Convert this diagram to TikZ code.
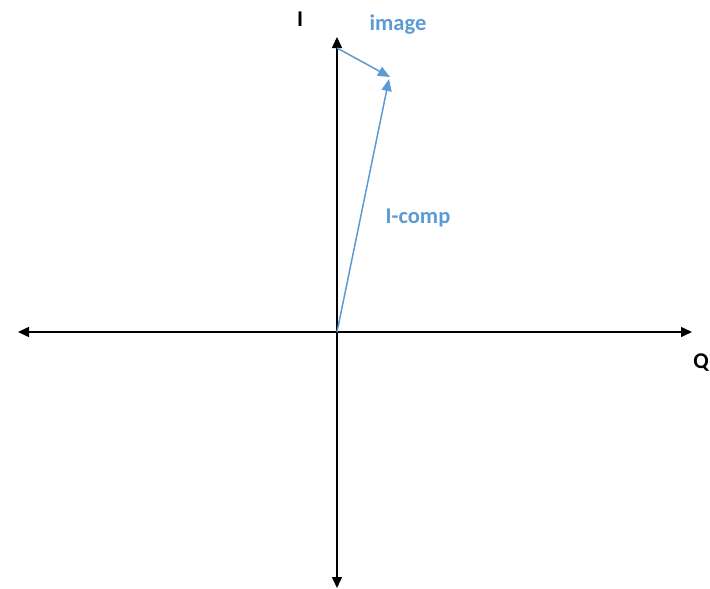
\documentclass[tikz,border=0pt]{standalone}
\usepackage{fontspec}
\setmainfont{Carlito}
\usetikzlibrary{arrows.meta}
\definecolor{cblue}{HTML}{5B9BD5}
\begin{document}
\begin{tikzpicture}[x=1pt,y=-1pt,
  axis/.style={line width=1.5pt,-{Triangle[length=11pt,width=10pt]}},
  vec/.style={cblue,line width=1.5pt,-{Triangle[length=12pt,width=10pt]}},
  lbl/.style={font=\bfseries\fontsize{22.5}{26}\selectfont,inner sep=0pt}]
\useasboundingbox (0,0) rectangle (710,589);
\coordinate (O) at (337,332);
\coordinate (L) at (18,332);
\coordinate (R) at (692,332);
\coordinate (T) at (337,37);
\coordinate (B) at (337,588);
\coordinate (S) at (337,48);
\coordinate (P) at (390,77);
\coordinate (P2) at (389,79);
\draw[axis] (O) -- (L);
\draw[axis] (O) -- (R);
\draw[axis] (O) -- (T);
\draw[axis] (O) -- (B);
\draw[vec] (O) -- (P2);
\draw[vec] (S) -- (P);
\node[lbl] (li) at (300,19) {I};
\node[lbl,text=cblue] (limg) at (398,25) {image};
\node[lbl] (lq) at (701,363) {Q};
\node[lbl,text=cblue] (lcomp) at (418,218) {I-comp};
\end{tikzpicture}
\end{document}
